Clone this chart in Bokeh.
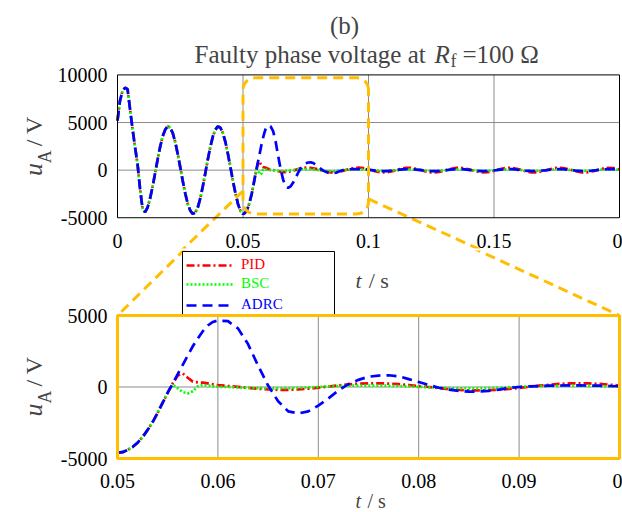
import math
from bokeh.plotting import figure
from bokeh.layouts import column
from bokeh.models import Range1d, FixedTicker, Legend, LegendItem, Label, BoxAnnotation
from bokeh.embed import file_html
from bokeh.resources import INLINE

# ---------------- data ----------------
# common pre-fault part, t = 0 ... 0.049 s (all three controllers identical)
T_PRE = [round(0.001 * i, 3) for i in range(50)]
U_PRE = [5200, 7300, 8300, 8650, 8500, 6400, 4300, 2400, 600, -2000,
         -4100, -4400, -3900, -2950, -1700, -300, 1150, 2450, 3550, 4250,
         4600, 4450, 3900, 2950, 1700, 300, -1150, -2450, -3550, -4250,
         -4600, -4450, -3900, -2950, -1700, -300, 1150, 2450, 3550, 4250,
         4600, 4450, 3900, 2950, 1700, 300, -1150, -2450, -3550, -4300]

# zoomed window, t = 0.050 ... 0.100 s
T_POST = ([round(0.05 + 0.0005 * i, 4) for i in range(21)] +
          [round(0.061 + 0.001 * i, 3) for i in range(40)])
U_PID_POST = [-4590, -4560, -4400, -4200, -3900, -3500, -3000, -2450, -1800, -1100,
              -400, 250, 800, 950, 650, 380, 320, 300, 250, 190, 130,
              70, 10, -60, -120, -170, -200, -200, -170, -120, -50,
              30, 110, 180, 230, 260, 260, 240, 200, 140, 70,
              0, -80, -150, -210, -240, -240, -220, -190, -130, -60,
              10, 90, 160, 215, 250, 260, 250, 215, 165, 100]
U_BSC_POST = [-4590, -4560, -4400, -4200, -3900, -3500, -3000, -2450, -1800, -1100,
              -350, 150, -100, -350, -450, -300, 50, 150, 100, 50, 20,
              0, -30, -60, -80, -90, -90, -80, -60, -30, 0,
              40, 70, 90, 100, 100, 100, 90, 70, 40, 10,
              -20, -50, -80, -100, -100, -100, -80, -50, -20, 10,
              40, 60, 75, 85, 90, 85, 75, 60, 45, 30]
U_ADRC_POST = [-4590, -4560, -4400, -4200, -3900, -3500, -3000, -2450, -1800, -1100,
               -400, 250, 900, 1550, 2200, 2850, 3400, 3900, 4300, 4550, 4650,
               4600, 4100, 3000, 1500, 100, -1000, -1700, -1850, -1700, -1300,
               -800, -250, 200, 500, 720, 800, 820, 750, 550, 350,
               150, -50, -180, -280, -320, -320, -270, -180, -60, 0,
               40, 70, 95, 105, 110, 110, 100, 90, 70, 50]

# steady-state tail, t = 0.1025 ... 0.2 s
T_TAIL = [round(0.1 + 0.0025 * (i + 1), 4) for i in range(40)]
U_PID_TAIL = [-115, -240, -225, -75, 115, 240, 225, 75,
              -115, -245, -225, -75, 115, 245, 225, 75,
              -110, -240, -225, -75, 115, 240, 225, 75,
              -115, -245, -220, -75, 115, 245, 225, 75,
              -115, -240, -225, -75, 115, 245, 225, 75]
U_BSC_TAIL = [-40, -85, -80, -28, 40, 85, 80, 28,
              -40, -85, -80, -28, 40, 85, 80, 28,
              -40, -85, -80, -28, 40, 85, 80, 28,
              -40, -85, -80, -28, 40, 85, 80, 28,
              -40, -85, -80, -28, 40, 85, 80, 28]
U_ADRC_TAIL = [-50, -105, -100, -35, 50, 105, 100, 35,
               -50, -105, -100, -35, 50, 105, 100, 35,
               -50, -105, -100, -35, 50, 105, 100, 35,
               -50, -105, -100, -35, 50, 105, 100, 35,
               -50, -105, -100, -35, 50, 105, 100, 35]

SERIES = ["PID", "BSC", "ADRC"]

X_TICKS_TOP = [0, 0.05, 0.1, 0.15, 0.2]
X_LABELS_TOP = ["0", "0.05", "0.1", "0.15", "0"]      # last label is cut to "0" in the original
Y_TICKS_TOP = [-5000, 0, 5000, 10000]
Y_LABELS_TOP = ["-5000", "0", "5000", "10000"]
X_TICKS_BOT = [0.05, 0.06, 0.07, 0.08, 0.09, 0.1]
X_LABELS_BOT = ["0.05", "0.06", "0.07", "0.08", "0.09", "0"]
Y_TICKS_BOT = [-5000, 0, 5000]
Y_LABELS_BOT = ["-5000", "0", "5000"]
ZOOM_T = (0.05, 0.1)           # time window shown in the lower plot
ZOOM_U = (-4600, 9700)         # vertical extent of the dashed window marker

# ---------------- style / layout ----------------
FONT = "Liberation Serif"
RED, GREEN, BLUE = "#ff0000", "#00ff00", "#0000ff"
ORANGE = "#ffbf00"
GRID = "#8c8c8c"
LW = 2.7
STYLES = {
    "PID": dict(color=RED, line_dash="8 3 2 3"),
    "BSC": dict(color=GREEN, line_dash="2 2"),
    "ADRC": dict(color=BLUE, line_dash="10 6"),
}
W = 622
HA, HB = 250, 262              # canvas heights (upper / lower figure)
PL, PR = 117, 619              # plot box left / right in px
A_T, A_B = 75, 219             # upper plot box top / bottom (page px)
B_T, B_B = 315, 458            # lower plot box top / bottom (page px)

# frames cover the whole canvas; ranges extended so the plot boxes sit at the pixels above
sxA = (X_TICKS_TOP[-1] - X_TICKS_TOP[0]) / (PR - PL)
svA = (Y_TICKS_TOP[-1] - Y_TICKS_TOP[0]) / (A_B - A_T)
xrA = (X_TICKS_TOP[0] - PL * sxA, X_TICKS_TOP[-1] + (W - PR) * sxA)
yrA = (Y_TICKS_TOP[0] - (HA - A_B) * svA, Y_TICKS_TOP[-1] + A_T * svA)
sxB = (X_TICKS_BOT[-1] - X_TICKS_BOT[0]) / (PR - PL)
svB = (Y_TICKS_BOT[-1] - Y_TICKS_BOT[0]) / (B_B - B_T)
xrB = (X_TICKS_BOT[0] - PL * sxB, X_TICKS_BOT[-1] + (W - PR) * sxB)
yrB = (Y_TICKS_BOT[0] - (HA + HB - B_B) * svB, Y_TICKS_BOT[-1] + (B_T - HA) * svB)


def pxmap(xr, yr, h, page_top):
    def X(px):
        return xr[0] + px / W * (xr[1] - xr[0])

    def Y(py):
        return yr[1] - (py - page_top) / h * (yr[1] - yr[0])
    return X, Y


XA, YA = pxmap(xrA, yrA, HA, 0)
XB, YB = pxmap(xrB, yrB, HB, HA)


def make_fig(h, xr, yr):
    p = figure(width=W, height=h, x_range=Range1d(*xr), y_range=Range1d(*yr),
               output_backend="svg", toolbar_location=None, title=None,
               min_border=0, min_border_left=0, min_border_right=0,
               min_border_top=0, min_border_bottom=0)
    p.outline_line_color = None
    p.grid.visible = False
    p.background_fill_color = "white"
    p.border_fill_color = "white"
    return p


def style_axes(p, xt, xl, yt, yl, x_standoff):
    p.xaxis.ticker = FixedTicker(ticks=xt)
    p.yaxis.ticker = FixedTicker(ticks=yt)
    p.xaxis.major_label_overrides = dict(zip(xt, xl))
    p.yaxis.major_label_overrides = dict(zip(yt, yl))
    for ax in (p.xaxis, p.yaxis):
        ax.major_label_text_font = FONT
        ax.major_label_text_font_size = "20px"
        ax.major_label_text_color = "black"
        ax.major_tick_line_color = None
        ax.minor_tick_line_color = None
        ax.axis_line_color = None
    p.xaxis.major_label_standoff = x_standoff
    p.yaxis.major_label_standoff = -(PL - 4)


def grid(p, xt, yt, box_x, box_y):
    inner_x = [t for t in xt if t not in box_x]
    inner_y = [t for t in yt if t not in box_y]
    p.segment(x0=inner_x, y0=[box_y[0]] * len(inner_x), x1=inner_x, y1=[box_y[1]] * len(inner_x),
              line_color=GRID, line_width=1)
    p.segment(x0=[box_x[0]] * len(inner_y), y0=inner_y, x1=[box_x[1]] * len(inner_y), y1=inner_y,
              line_color=GRID, line_width=1)


def ylabel(p, X, Y, dy):
    p.add_layout(Label(x=X(33), y=Y(177 + dy), text="u", angle=math.pi / 2,
                       text_font=FONT, text_font_style="italic", text_font_size="26px",
                       text_align="left", text_baseline="alphabetic"))
    p.add_layout(Label(x=X(44), y=Y(164 + dy), text="A", angle=math.pi / 2,
                       text_font=FONT, text_font_size="18px",
                       text_align="left", text_baseline="alphabetic"))
    p.add_layout(Label(x=X(33), y=Y(147 + dy), text="/ V", angle=math.pi / 2,
                       text_font=FONT, text_font_size="24px",
                       text_align="left", text_baseline="alphabetic"))


def xlabel(p, X, Y, baseline, size=22):
    p.add_layout(Label(x=X(355), y=Y(baseline), text="t", text_font=FONT,
                       text_font_style="italic", text_font_size=f"{size}px",
                       text_align="left", text_baseline="alphabetic"))
    p.add_layout(Label(x=X(355 + 0.6 * size), y=Y(baseline), text="/ s", text_font=FONT,
                       text_font_size=f"{size}px", text_align="left",
                       text_baseline="alphabetic"))


def rounded_rect(x0, x1, y0, y1, rx, ry, n=6):
    xs, ys = [], []
    corners = [(x1 - rx, y1 - ry, 0), (x0 + rx, y1 - ry, 90),
               (x0 + rx, y0 + ry, 180), (x1 - rx, y0 + ry, 270)]
    for cx, cy, a0 in corners:
        for k in range(n + 1):
            a = math.radians(a0 + 90 * k / n)
            xs.append(cx + rx * math.cos(a))
            ys.append(cy + ry * math.sin(a))
    xs.append(xs[0])
    ys.append(ys[0])
    return xs, ys


# ---------------- upper figure ----------------
pA = make_fig(HA, xrA, yrA)
style_axes(pA, X_TICKS_TOP, X_LABELS_TOP, Y_TICKS_TOP, Y_LABELS_TOP, -21)
boxA_x = (X_TICKS_TOP[0], X_TICKS_TOP[-1])
boxA_y = (Y_TICKS_TOP[0], Y_TICKS_TOP[-1])
grid(pA, X_TICKS_TOP, Y_TICKS_TOP, boxA_x, boxA_y)

t_all = T_PRE + T_POST + T_TAIL
full = {
    "PID": U_PRE + U_PID_POST + U_PID_TAIL,
    "BSC": U_PRE + U_BSC_POST + U_BSC_TAIL,
    "ADRC": U_PRE + U_ADRC_POST + U_ADRC_TAIL,
}
for name in SERIES:
    pA.line(t_all, full[name], line_width=LW, **STYLES[name])

pA.add_layout(BoxAnnotation(left=boxA_x[0], right=boxA_x[1], bottom=boxA_y[0], top=boxA_y[1],
                            fill_color=None, line_color="black", line_alpha=1, line_width=1))
rx, ry = 12 * sxA, 12 * svA
zx, zy = rounded_rect(ZOOM_T[0], ZOOM_T[1], ZOOM_U[0], ZOOM_U[1], rx, ry)
pA.line(zx, zy, line_color=ORANGE, line_width=3, line_dash="10 6")
# connector lines (upper part)
pA.line([ZOOM_T[0], XA(PL)], [YA(192), YA(B_T)], line_color=ORANGE, line_width=3, line_dash="10 6")
pA.line([ZOOM_T[1], XA(PR)], [YA(200), YA(B_T)], line_color=ORANGE, line_width=3, line_dash="10 6")

# titles
pA.add_layout(Label(x=XA(344), y=YA(25), text="(b)", text_font=FONT, text_font_size="25px",
                    text_align="center", text_baseline="alphabetic"))
pA.add_layout(Label(x=XA(194), y=YA(54), text="Faulty phase voltage at", text_font=FONT,
                    text_font_size="25px", text_align="left", text_baseline="alphabetic"))
pA.add_layout(Label(x=XA(434), y=YA(54), text="R", text_font=FONT, text_font_style="italic",
                    text_font_size="25px", text_align="left", text_baseline="alphabetic"))
pA.add_layout(Label(x=XA(450), y=YA(61), text="f", text_font=FONT,
                    text_font_size="18px", text_align="left", text_baseline="alphabetic"))
pA.add_layout(Label(x=XA(462), y=YA(54), text="=100 \u03a9", text_font=FONT,
                    text_font_size="25px", text_align="left", text_baseline="alphabetic"))
ylabel(pA, XA, YA, 0)

# ---------------- lower figure ----------------
pB = make_fig(HB, xrB, yrB)
style_axes(pB, X_TICKS_BOT, X_LABELS_BOT, Y_TICKS_BOT, Y_LABELS_BOT, -45)
boxB_x = (X_TICKS_BOT[0], X_TICKS_BOT[-1])
boxB_y = (Y_TICKS_BOT[0], Y_TICKS_BOT[-1])
grid(pB, X_TICKS_BOT, Y_TICKS_BOT, boxB_x, boxB_y)

post = {"PID": U_PID_POST, "BSC": U_BSC_POST, "ADRC": U_ADRC_POST}
rends = {}
for name in SERIES:
    rends[name] = pB.line(T_POST, post[name], line_width=LW, **STYLES[name])

# connector lines (lower part)
pB.line([XB(242), ZOOM_T[0]], [YB(192), Y_TICKS_BOT[-1]], line_color=ORANGE, line_width=3,
        line_dash="10 6")
pB.line([XB(369), ZOOM_T[1]], [YB(200), Y_TICKS_BOT[-1]], line_color=ORANGE, line_width=3,
        line_dash="10 6")

# legend box + items
pB.add_layout(BoxAnnotation(left=XB(182), right=XB(334), top=YB(251), bottom=YB(B_T),
                            fill_color="white", fill_alpha=1, line_color="black",
                            line_alpha=1, line_width=1))
rows = {"PID": 265, "BSC": 284, "ADRC": 305}
for name in SERIES:
    vy = (HA + HB) - (rows[name] + 8)
    leg = Legend(items=[LegendItem(label=name, renderers=[rends[name]])],
                 location=(186, vy), padding=0, margin=0, spacing=0,
                 border_line_color=None, background_fill_alpha=0,
                 glyph_width=47, glyph_height=16, label_height=16, label_standoff=8,
                 label_text_font=FONT, label_text_font_size="15px",
                 label_text_color=STYLES[name]["color"])
    pB.add_layout(leg)

pB.add_layout(BoxAnnotation(left=boxB_x[0], right=boxB_x[1], bottom=boxB_y[0], top=boxB_y[1],
                            fill_color=None, line_color=ORANGE, line_alpha=1, line_width=3))

xlabel(pB, XB, YB, 280)
xlabel(pB, XB, YB, 500, size=20)
ylabel(pB, XB, YB, 239)

layout = column(pA, pB, spacing=0)
open("out.html", "w").write(file_html(layout, INLINE))
